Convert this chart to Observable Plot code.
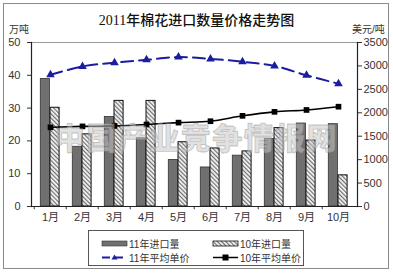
<!DOCTYPE html>
<html><head><meta charset="utf-8">
<script src="https://cdn.jsdelivr.net/npm/d3@7"></script>
<script src="https://cdn.jsdelivr.net/npm/@observablehq/plot@0.6"></script>
<style>
body{margin:0;background:#fff;}
#wrap{position:relative;width:393px;height:273px;overflow:hidden;font-family:"Liberation Sans","Noto Sans CJK SC",sans-serif;}
#border{position:absolute;left:3px;top:3px;width:384px;height:264px;border:1.5px solid #8a8a8a;}
.abs{position:absolute;white-space:nowrap;}
#title{left:0;width:393px;top:13px;line-height:16px;text-align:center;font-family:"Liberation Serif","Noto Sans CJK SC",serif;font-size:14px;font-weight:500;color:#111;}
.unit{font-size:10px;line-height:10px;color:#333;top:25px;}
#legend{left:88px;top:230px;width:214px;height:34px;border:1px solid #555;background:#fff;font-size:10px;color:#333;}
.li{position:absolute;display:flex;align-items:center;}
#wm{left:0;width:393px;top:114px;text-align:center;font-family:"Noto Sans CJK SC",sans-serif;font-weight:900;font-size:30px;color:rgba(200,200,200,0.55);-webkit-text-stroke:0.8px rgba(150,150,150,0.5);letter-spacing:1.5px;}
</style></head>
<body><div id="wrap"><div id="border"></div></div>
<script>
const months = ["1月","2月","3月","4月","5月","6月","7月","8月","9月","10月"];
const imp11 = [38.9, 18.2, 27.3, 20.8, 14.2, 11.9, 15.5, 20.6, 25.3, 25.1];
const imp10 = [30.1, 22.0, 32.2, 32.2, 19.6, 17.7, 16.8, 23.9, 20.1, 9.5];
const price11 = [2810, 2990, 3070, 3130, 3190, 3150, 3090, 3000, 2800, 2620];
const price10 = [1690, 1710, 1720, 1750, 1790, 1820, 1935, 2020, 2060, 2130];
const leftTicks = [0, 10, 20, 30, 40, 50];
const rightTicks = [0, 500, 1000, 1500, 2000, 2500, 3000, 3500];
const ratio = 3500 / 50;

const d11 = months.map((m, i) => ({m, v: imp11[i]}));
const d10 = months.map((m, i) => ({m, v: imp10[i]}));
const p11 = months.map((m, i) => ({m, v: price11[i] / ratio}));
const p10 = months.map((m, i) => ({m, v: price10[i] / ratio}));

const font = "Liberation Sans, Noto Sans CJK SC, sans-serif";
const chart = Plot.plot({
  width: 393, height: 273,
  marginLeft: 31, marginRight: 36, marginTop: 42, marginBottom: 67,
  style: {fontFamily: font, fontSize: "11px", color: "#333", background: "transparent"},
  x: {type: "band", domain: months, paddingInner: 0, paddingOuter: 0},
  y: {domain: [0, 50]},
  marks: [
    Plot.frame({stroke: "#999", strokeWidth: 1}),
    Plot.barY(d11, {x: "m", y: "v", fill: "#707070", stroke: "#333", strokeWidth: 0.8, insetLeft: 6.3, insetRight: 16.6}),
    Plot.barY(d10, {x: "m", y: "v", fill: "url(#hatch)", stroke: "#111", strokeWidth: 1, insetLeft: 16, insetRight: 6.9}),
    Plot.line(p10, {x: "m", y: "v", stroke: "#000", strokeWidth: 1.6, curve: "catmull-rom"}),
    Plot.dot(p10, {x: "m", y: "v", symbol: "square", fill: "#000", r: 3.2}),
    Plot.line(p11, {x: "m", y: "v", stroke: "#1c1ca0", strokeWidth: 2, strokeDasharray: "12,6", curve: "catmull-rom"}),
    Plot.dot(p11, {x: "m", y: "v", symbol: "triangle", fill: "#1c1ca0", r: 3.2}),
    Plot.ruleX(months, {x: d => d, dx: -16.3, y1: 0, y2: -1, stroke: "#333"}),
    Plot.ruleY([0], {stroke: "#222", strokeWidth: 1.2}),
    Plot.axisY(leftTicks, {anchor: "left", tickSize: 4, tickPadding: 7, label: null, fontSize: 11}),
    Plot.axisY(rightTicks.map(t => t / ratio), {anchor: "right", tickSize: 4, tickPadding: 2, label: null, tickFormat: d => String(Math.round(d * ratio)), fontSize: 11}),
    Plot.axisX({tickSize: 0, tickPadding: 7, label: null, fontSize: 11}),
    Plot.frame({anchor: "left", stroke: "#222", strokeWidth: 1.2}),
    Plot.frame({anchor: "right", stroke: "#222", strokeWidth: 1.2})
  ]
});
chart.style.position = "absolute";
chart.style.left = "0px";
chart.style.top = "0px";
const ns = "http://www.w3.org/2000/svg";
const defs = document.createElementNS(ns, "defs");
defs.innerHTML = '<pattern id="hatch" width="3" height="3" patternUnits="userSpaceOnUse" patternTransform="rotate(-45)"><rect width="3" height="3" fill="#f4f4f4"/><line x1="0.6" y1="0" x2="0.6" y2="3" stroke="#666" stroke-width="1.1"/></pattern>';
chart.insertBefore(defs, chart.firstChild);

const wrap = document.getElementById("wrap");
wrap.appendChild(chart);

function add(id, cls, text, style) {
  const d = document.createElement("div");
  if (id) d.id = id;
  d.className = "abs " + (cls || "");
  d.textContent = text;
  if (style) Object.assign(d.style, style);
  wrap.appendChild(d);
  return d;
}
add("wm", "", "中国产业竞争情报网");
add("title", "", "2011年棉花进口数量价格走势图");
add(null, "unit", "万吨", {left: "9px"});
add(null, "unit", "美元/吨", {left: "352px"});

const leg = document.createElement("div");
leg.id = "legend"; leg.className = "abs";
const items = [
  {x: 13, y: 5, label: "11年进口量", sw: '<rect x="0" y="3" width="25" height="5" fill="#707070" stroke="#333" stroke-width="0.6"/>'},
  {x: 124, y: 5, label: "10年进口量", sw: '<rect x="0" y="3" width="25" height="5" fill="url(#hatch2)" stroke="#111" stroke-width="0.8"/>'},
  {x: 13, y: 19, label: "11年平均单价", sw: '<line x1="0" y1="5.5" x2="25" y2="5.5" stroke="#1c1ca0" stroke-width="2" stroke-dasharray="8,5"/><path d="M12.5,2.5 L15.5,7.5 L9.5,7.5 Z" fill="#1c1ca0"/>'},
  {x: 124, y: 19, label: "10年平均单价", sw: '<line x1="0" y1="5.5" x2="25" y2="5.5" stroke="#000" stroke-width="1.5"/><rect x="9.5" y="2.5" width="6" height="6" fill="#000"/>'}
];
for (const it of items) {
  const d = document.createElement("div");
  d.className = "li";
  d.style.left = it.x + "px"; d.style.top = it.y + "px";
  d.innerHTML = '<svg width="26" height="11" style="overflow:visible"><defs><pattern id="hatch2" width="3" height="3" patternUnits="userSpaceOnUse" patternTransform="rotate(-45)"><rect width="3" height="3" fill="#f4f4f4"/><line x1="0.6" y1="0" x2="0.6" y2="3" stroke="#666" stroke-width="1.1"/></pattern></defs>' + it.sw + '</svg><span style="margin-left:1px">' + it.label + '</span>';
  leg.appendChild(d);
}
wrap.appendChild(leg);
</script>
</body></html>
